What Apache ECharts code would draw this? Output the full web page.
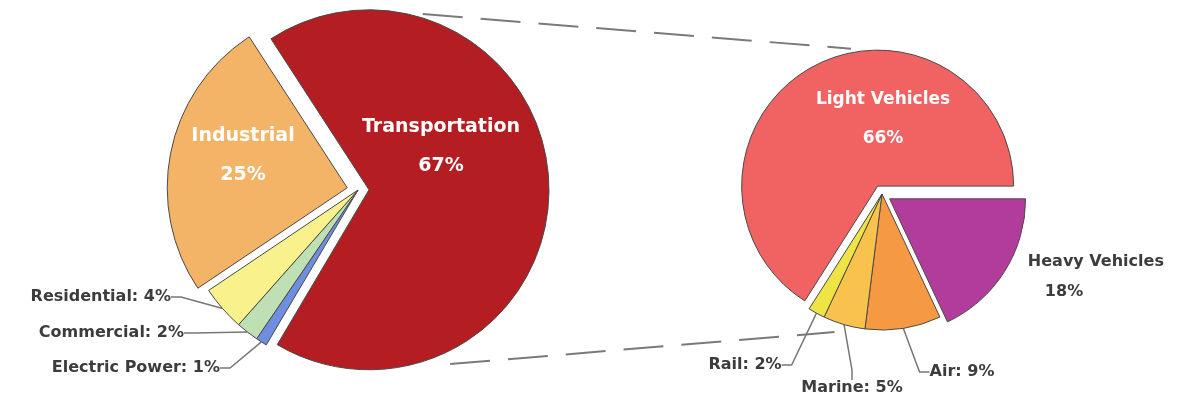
<!DOCTYPE html>
<html>
<head>
<meta charset="utf-8">
<script src="https://cdn.jsdelivr.net/npm/echarts@6/dist/echarts.min.js"></script>
<style>
html,body{margin:0;padding:0;background:#ffffff;}
#chart{width:1183px;height:400px;}
</style>
</head>
<body>
<div id="chart"></div>
<script>
// ---- data ----
const leftCats = ['Transportation', 'Electric Power', 'Commercial', 'Residential', 'Industrial'];
const leftVals = [67, 1, 2, 4, 25];
const rightCats = ['Heavy Vehicles', 'Air', 'Marine', 'Rail', 'Light Vehicles'];
const rightVals = [18, 9, 5, 2, 66];

// ---- styles / layout ----
const leftColors = ['#B41D21', '#6F8EE0', '#BEE0B4', '#F9F18C', '#F3B468'];
const rightColors = ['#B23C9C', '#F59A42', '#F8C24C', '#F0E444', '#F16262'];
const leftExploded = ['Transportation', 'Industrial'];
const rightExploded = ['Heavy Vehicles', 'Light Vehicles'];
const noLineLabels = ['Heavy Vehicles'];

const L = { c: [358, 190], r: 180, off: 11, start: 123 };
const R = { c: [882, 194], r: 136, off: 9, start: 0 };

// white in-slice labels: anchor centres and font sizes
const insidePos = [
  { 'Transportation': { x: 441, y: 147, size: 19 },
    'Industrial': { x: 243, y: 156, size: 19 } },
  { 'Light Vehicles': { x: 883, y: 119, size: 17 } }
];
// outside label anchor points
const labelPos = [
  { 'Residential': { x: 171, y: 297, align: 'right' },
    'Commercial': { x: 184, y: 333, align: 'right' },
    'Electric Power': { x: 220, y: 368, align: 'right' } },
  { 'Heavy Vehicles': { x: 1028, y: 285, align: 'left' },
    'Rail': { x: 745, y: 365, align: 'center' },
    'Marine': { x: 852, y: 388, align: 'center' },
    'Air': { x: 962, y: 372, align: 'center' } }
];
const catsBySeries = [leftCats, rightCats];
const valsBySeries = [leftVals, rightVals];

const FONT = 'DejaVu Sans';
const TXT = '#3c3c3c';

function makeItems(idx, cats, vals, colors, exploded) {
  return cats.map((name, i) => {
    const inside = !!insidePos[idx][name];
    const item = {
      name: name,
      value: vals[i],
      selected: exploded.includes(name),
      itemStyle: { color: colors[i] },
      label: inside ? { show: false } : {
        position: 'outside',
        color: TXT,
        fontSize: 16,
        fontWeight: 'bold',
        fontFamily: FONT,
        formatter: '{b}: {c}%'
      },
      labelLine: { show: !inside && !noLineLabels.includes(name) }
    };
    if (name === 'Heavy Vehicles') {
      item.label = {
        position: 'outside',
        formatter: '{a|{b}}\n{p|{c}%}',
        rich: {
          a: { color: TXT, fontSize: 16, fontWeight: 'bold', fontFamily: FONT, lineHeight: 30 },
          p: { color: TXT, fontSize: 16, fontWeight: 'bold', fontFamily: FONT, lineHeight: 30, padding: [0, 0, 0, 17] }
        }
      };
    }
    return item;
  });
}

function layoutFor(idx) {
  return function (params) {
    const name = catsBySeries[idx][params.dataIndex];
    const p = labelPos[idx][name];
    if (!p) return {};
    return { x: p.x, y: p.y, align: p.align, verticalAlign: 'middle' };
  };
}

function pieSeries(G, idx, colors, exploded) {
  return {
    type: 'pie',
    center: G.c,
    radius: G.r,
    startAngle: G.start,
    clockwise: true,
    selectedMode: 'multiple',
    selectedOffset: G.off,
    avoidLabelOverlap: false,
    animation: false,
    emphasis: { disabled: true, scale: false },
    itemStyle: { borderColor: '#4a4a4a', borderWidth: 1 },
    labelLine: { lineStyle: { color: '#777', width: 1.5 }, length: 10, length2: 10 },
    labelLayout: layoutFor(idx),
    data: makeItems(idx, catsBySeries[idx], valsBySeries[idx], colors, exploded)
  };
}

// connector lines derived from the pie geometry
function pt(c, r, deg) {
  const a = deg * Math.PI / 180;
  return [c[0] + r * Math.cos(a), c[1] + r * Math.sin(a)];
}
const transC = [L.c[0] + L.off, L.c[1]];
const lightC = pt(R.c, R.off, 241);
const topA = pt(transC, L.r + 4, -73), topB = pt(lightC, R.r + 4, -101);
const botA = pt(transC, L.r + 12, 65), botB = pt(R.c, R.r + 10, 109);
const dashStyle = { stroke: '#7a7a7a', lineWidth: 2, lineDash: [40, 18] };

// in-slice texts built from the data arrays
const insideTexts = [];
[0, 1].forEach(idx => {
  catsBySeries[idx].forEach((name, i) => {
    const p = insidePos[idx][name];
    if (!p) return;
    insideTexts.push({
      type: 'text', x: p.x, y: p.y, z: 100,
      style: {
        text: name + '\n' + valsBySeries[idx][i] + '%',
        fill: '#ffffff',
        font: 'bold ' + p.size + 'px "' + FONT + '"',
        align: 'center', verticalAlign: 'middle',
        lineHeight: 39
      }
    });
  });
});

const chart = echarts.init(document.getElementById('chart'), null, { renderer: 'canvas' });
chart.setOption({
  backgroundColor: '#ffffff',
  animation: false,
  series: [
    pieSeries(L, 0, leftColors, leftExploded),
    pieSeries(R, 1, rightColors, rightExploded)
  ],
  graphic: [
    { type: 'line', shape: { x1: topA[0], y1: topA[1], x2: topB[0], y2: topB[1] }, style: dashStyle, z: -1 },
    { type: 'line', shape: { x1: botA[0], y1: botA[1], x2: botB[0], y2: botB[1] }, style: dashStyle, z: -1 }
  ].concat(insideTexts)
});
</script>
</body>
</html>
